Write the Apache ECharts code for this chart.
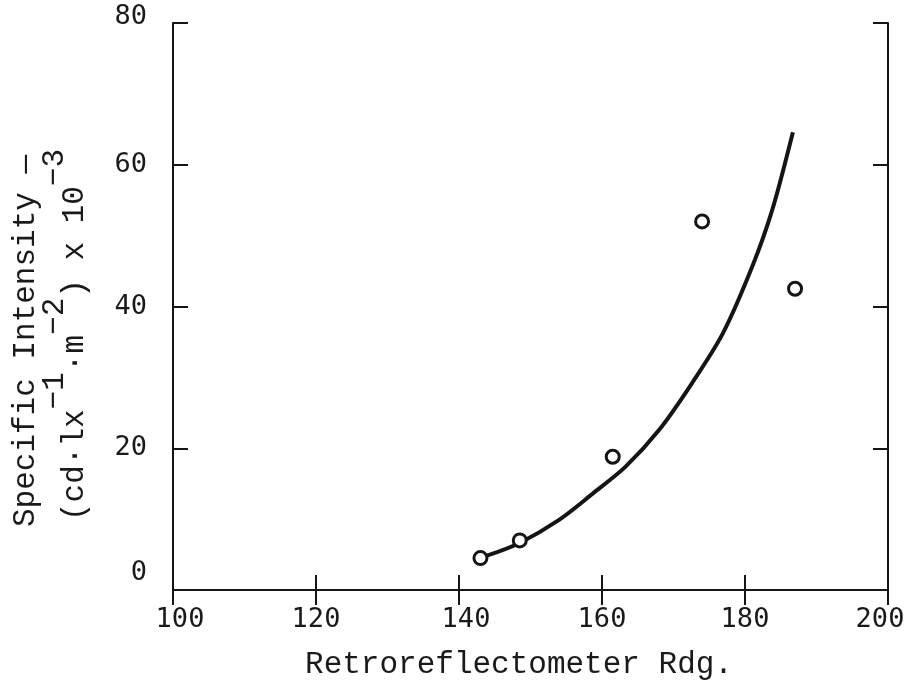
<!DOCTYPE html>
<html>
<head>
<meta charset="utf-8">
<script src="https://cdn.jsdelivr.net/npm/echarts@6/dist/echarts.min.js"></script>
<style>
html,body{margin:0;padding:0;background:#fff;}
#chart{width:916px;height:687px;}
</style>
</head>
<body>
<div id="chart"></div>
<script>
// Measured points (Retroreflectometer reading, specific intensity x 1e-3)
var pointX = [143, 148.5, 161.5, 174, 187];
var pointY = [4.5, 7, 18.8, 52, 42.5];
// Fitted curve as drawn in the figure
var curveX = [143.8, 148.4, 154, 158.7, 163.3, 168, 172.6, 176.9, 181, 183.8, 186.7];
var curveY = [4.8, 6.6, 9.9, 13.6, 17.4, 22.6, 29.2, 36.2, 45.6, 53.6, 64.6];
// Axis ticks
var xTicks = [100, 120, 140, 160, 180, 200];
var yTicks = [0, 20, 40, 60, 80];
var xTitle = 'Retroreflectometer Rdg.';
var yTitle1 = 'Specific Intensity \u2014';
// second title line: base text and its superscripts (monospace-aligned)
var yTitle2Base = '(cd\u00b7lx  \u00b7m  ) x 10';
var yTitle2Sup  = '      \u22121  \u22122      \u22123';

var INK = '#151515';
var TXT = '#1a1a1a';
var TICKFONT = 'DejaVu Sans Mono';
var TITLEFONT = 'Liberation Mono';

var chart = echarts.init(document.getElementById('chart'));

function pairs(xs, ys) { return xs.map(function (x, i) { return [x, ys[i]]; }); }

var axisLineStyle = { show: true, lineStyle: { color: INK, width: 2 } };
var tickStyle = { show: true, inside: true, length: 15, lineStyle: { color: INK, width: 2 } };

var option = {
  animation: false,
  backgroundColor: '#fff',
  grid: { left: 173, right: 28, top: 23, bottom: 97 },
  xAxis: [
    {
      type: 'value', position: 'bottom',
      min: xTicks[0], max: xTicks[xTicks.length - 1], interval: 20,
      axisLine: axisLineStyle, axisTick: tickStyle, splitLine: { show: false },
      axisLabel: {
        show: true, margin: 30, verticalAlign: 'middle',
        color: TXT, fontFamily: TICKFONT, fontSize: 27,
        formatter: function (v) {
          if (v === 100 || v === 140) return '{r|' + v + '}';
          if (v === 200) return '{l|' + v + '}';
          return '{n|' + v + '}';
        },
        rich: {
          n: { fontFamily: TICKFONT, fontSize: 27, color: TXT },
          r: { fontFamily: TICKFONT, fontSize: 27, color: TXT, padding: [0, 0, 0, 14] },
          l: { fontFamily: TICKFONT, fontSize: 27, color: TXT, padding: [0, 16, 0, 0] }
        }
      }
    },
    {
      type: 'value', position: 'top',
      min: xTicks[0], max: xTicks[xTicks.length - 1], interval: 20,
      axisLine: axisLineStyle, axisTick: tickStyle, splitLine: { show: false },
      axisLabel: { show: false }
    }
  ],
  yAxis: [
    {
      type: 'value', position: 'left',
      min: yTicks[0], max: yTicks[yTicks.length - 1], interval: 20,
      axisLine: axisLineStyle, axisTick: tickStyle, splitLine: { show: false },
      axisLabel: {
        show: true, margin: 26,
        color: TXT, fontFamily: TICKFONT, fontSize: 27,
        formatter: function (v) {
          if (v === 0) return '{z|0}';
          if (v === 80) return '{e|80}';
          return '{n|' + v + '}';
        },
        rich: {
          n: { fontFamily: TICKFONT, fontSize: 27, color: TXT },
          z: { fontFamily: TICKFONT, fontSize: 27, color: TXT, padding: [0, 0, 34, 0] },
          e: { fontFamily: TICKFONT, fontSize: 27, color: TXT, padding: [0, 0, 12, 0] }
        }
      }
    },
    {
      type: 'value', position: 'right',
      min: yTicks[0], max: yTicks[yTicks.length - 1], interval: 20,
      axisLine: axisLineStyle, axisTick: tickStyle, splitLine: { show: false },
      axisLabel: { show: false }
    }
  ],
  graphic: [
    {
      type: 'text', x: 519, y: 665,
      style: {
        text: xTitle, fill: TXT,
        font: '31px "' + TITLEFONT + '"',
        align: 'center', verticalAlign: 'middle'
      }
    },
    {
      type: 'text', x: 26, y: 527, rotation: Math.PI / 2,
      style: {
        text: yTitle1, fill: TXT,
        font: '31px "' + TITLEFONT + '"',
        align: 'left', verticalAlign: 'middle'
      }
    },
    {
      type: 'text', x: 75, y: 521, rotation: Math.PI / 2,
      style: {
        text: yTitle2Base, fill: TXT,
        font: '31px "' + TITLEFONT + '"',
        align: 'left', verticalAlign: 'middle'
      }
    },
    {
      type: 'text', x: 55, y: 521, rotation: Math.PI / 2,
      style: {
        text: yTitle2Sup, fill: TXT,
        font: '31px "' + TITLEFONT + '"',
        align: 'left', verticalAlign: 'middle'
      }
    }
  ],
  series: [
    {
      type: 'line', xAxisIndex: 0, yAxisIndex: 0,
      data: pairs(curveX, curveY),
      smooth: 0.3, showSymbol: false, symbol: 'none',
      lineStyle: { color: INK, width: 4 },
      z: 2
    },
    {
      type: 'scatter', xAxisIndex: 0, yAxisIndex: 0,
      data: pairs(pointX, pointY),
      symbol: 'circle', symbolSize: 13,
      itemStyle: { color: '#fff', borderColor: INK, borderWidth: 3, opacity: 1 },
      z: 3
    }
  ]
};
chart.setOption(option);
</script>
</body>
</html>
